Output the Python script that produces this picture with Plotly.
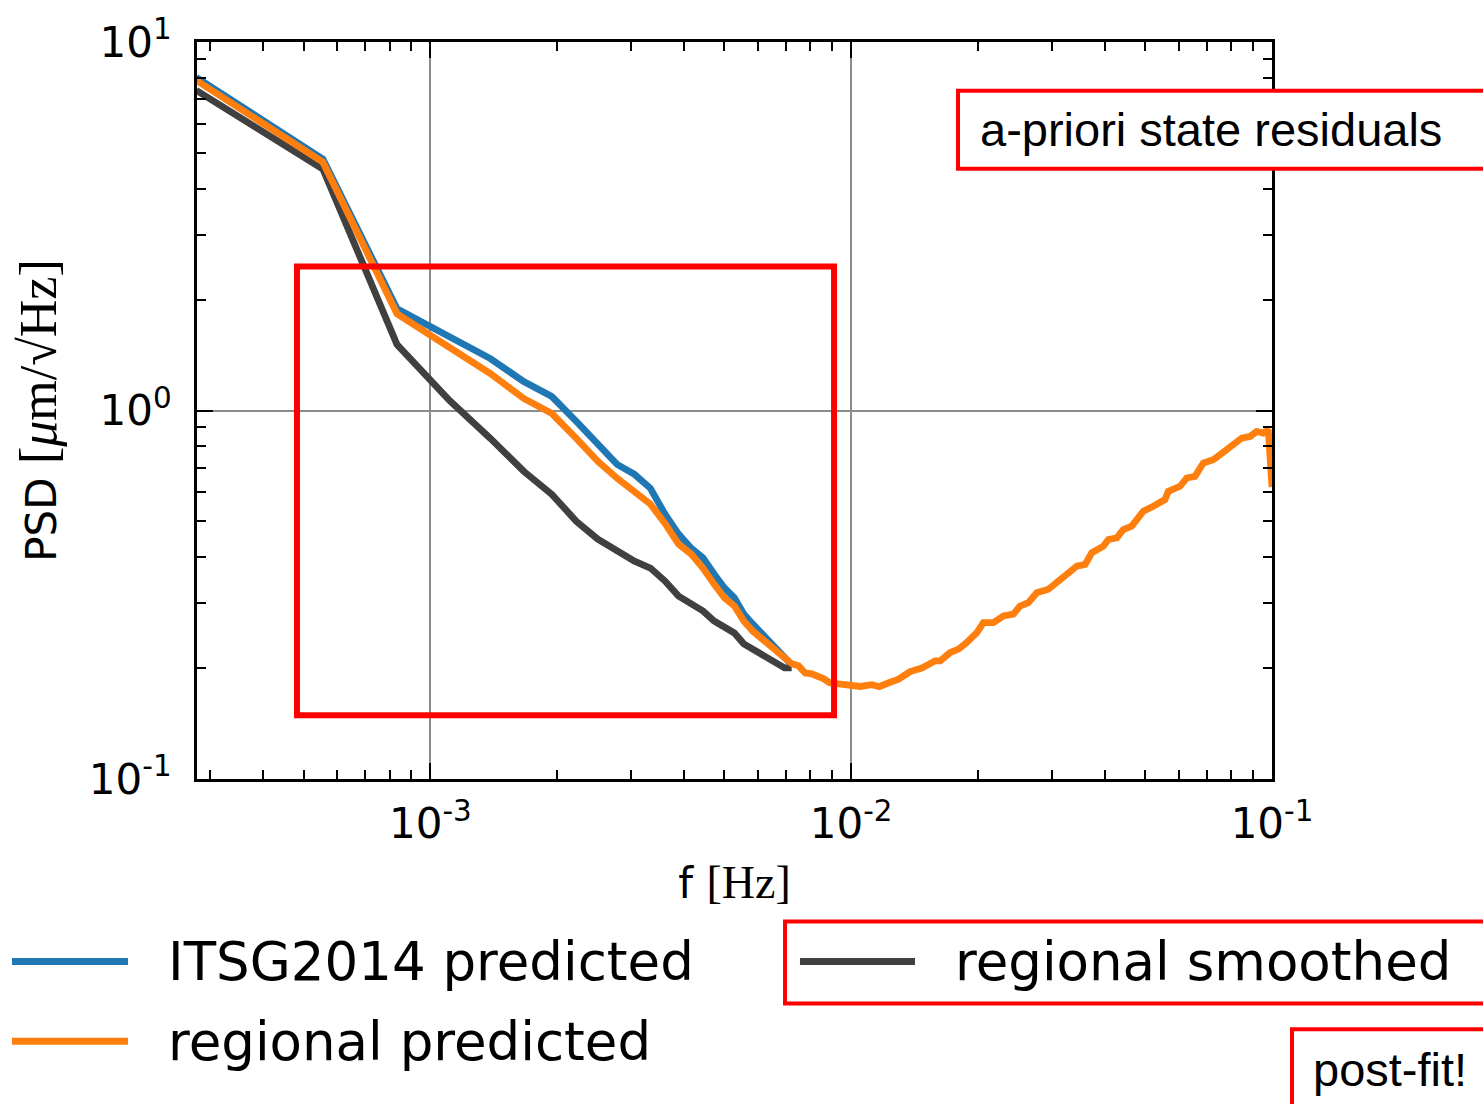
import plotly.graph_objects as go

# ---------------- data ----------------
df = 1.0 / 3600.0  # frequency resolution [Hz]

k_low = list(range(1, 27))
f_low = [k * df for k in k_low]

itsg_pred = [8.02, 4.81, 1.888, 1.576, 1.383, 1.198, 1.091, 0.934, 0.809, 0.714,
             0.671, 0.615, 0.523, 0.462, 0.423, 0.398, 0.360, 0.330, 0.310, 0.2805,
             0.2635, 0.249, 0.237, 0.2228, 0.212, 0.204]

reg_smooth = [7.39, 4.52, 1.509, 1.064, 0.840, 0.684, 0.592, 0.5006, 0.4476, 0.4153,
              0.390, 0.3736, 0.3445, 0.3137, 0.2985, 0.2858, 0.2685, 0.257, 0.249, 0.2327,
              0.2255, 0.2186, 0.2132, 0.2054, 0.2003, 0.2003]

# regional predicted: low-frequency bins (k = 1..33) ...
k_reg_low = list(range(1, 34))
reg_pred_low = [7.87, 4.72, 1.83, 1.472, 1.259, 1.078, 0.981, 0.840, 0.728, 0.655,
                0.604, 0.557, 0.494, 0.434, 0.408, 0.3736, 0.338, 0.310, 0.2948, 0.2685,
                0.2522, 0.2415, 0.2312, 0.220, 0.212, 0.2054, 0.2028, 0.194, 0.193, 0.1906,
                0.187, 0.1824, 0.1813]
# ... and the high-frequency part [Hz]
f_reg_high = [0.009417, 0.009945, 0.01050, 0.01120, 0.01167, 0.01216, 0.01296, 0.01381,
              0.01472, 0.01584, 0.01628, 0.01719, 0.01799, 0.01883, 0.01989, 0.02062,
              0.02178, 0.02301, 0.02429, 0.02520, 0.02637, 0.02761, 0.02941, 0.03108,
              0.03224, 0.03437, 0.03597, 0.03731, 0.03975, 0.04085, 0.04277, 0.04434,
              0.04642, 0.04946, 0.05224, 0.05568, 0.05670, 0.05882, 0.06045, 0.06271,
              0.06562, 0.06867, 0.07253, 0.07524, 0.08024, 0.08472, 0.08866, 0.09196,
              0.09535, 0.09799, 0.1]
reg_pred_high = [0.1816, 0.1791, 0.1783, 0.1803, 0.1780, 0.1816, 0.1867, 0.1957,
                 0.2000, 0.2093, 0.2093, 0.2204, 0.2251, 0.2346, 0.2495, 0.2657,
                 0.2657, 0.2770, 0.2800, 0.2948, 0.3009, 0.3203, 0.3272, 0.3445,
                 0.3554, 0.3781, 0.3822, 0.4110, 0.4286, 0.4467, 0.4512, 0.4755,
                 0.4854, 0.5329, 0.5497, 0.5732, 0.6036, 0.6161, 0.6227, 0.6557,
                 0.6627, 0.7200, 0.7355, 0.7587, 0.7992, 0.8414, 0.8503, 0.8774,
                 0.8682, 0.8867, 0.62]

f_reg = [k * df for k in k_reg_low] + f_reg_high
reg_pred = reg_pred_low + reg_pred_high

series_names = ["ITSG2014 predicted", "regional predicted", "regional smoothed"]
series_colors = ["#1f77b4", "#ff7f0e", "#404040"]

x_tick_vals = [1e-3, 1e-2, 1e-1]
x_tick_text = ["10<sup>-3</sup>", "10<sup>-2</sup>", "10<sup>-1</sup>"]
y_tick_vals = [1e-1, 1e0, 1e1]
y_tick_text = ["10<sup>-1</sup>", "10<sup>0</sup>", "10<sup>1</sup>"]

x_minor = [m * 10.0 ** e for e in (-4, -3, -2) for m in range(2, 10)]
y_minor = [m * 10.0 ** e for e in (-1, 0) for m in range(2, 10)]

# ---------------- figure ----------------
LW = 6.8
fig = go.Figure()
fig.add_trace(go.Scatter(x=f_low, y=itsg_pred, mode="lines", name=series_names[0],
                         line=dict(color=series_colors[0], width=LW), showlegend=False))
fig.add_trace(go.Scatter(x=f_low, y=reg_smooth, mode="lines", name=series_names[2],
                         line=dict(color=series_colors[2], width=LW), showlegend=False))
fig.add_trace(go.Scatter(x=f_reg, y=reg_pred, mode="lines", name=series_names[1],
                         line=dict(color=series_colors[1], width=LW), showlegend=False))

tickfont = dict(family="DejaVu Sans", size=42, color="black")

fig.update_xaxes(
    type="log", range=[-3.5545, -1],
    tickmode="array", tickvals=x_tick_vals, ticktext=x_tick_text,
    ticks="inside", ticklen=16, tickwidth=2, tickcolor="black",
    minor=dict(ticks="inside", ticklen=9, tickwidth=1.5, tickcolor="black",
               tickmode="array", tickvals=x_minor, showgrid=False),
    showline=True, linewidth=3, linecolor="black", mirror="allticks",
    showgrid=True, gridcolor="#8c8c8c", gridwidth=1.5,
    tickfont=tickfont, ticklabelstandoff=6,
    zeroline=False,
    title=dict(text="f <span style='font-family:Liberation Serif;font-size:46px'>[Hz]</span>",
               font=dict(family="DejaVu Sans", size=42, color="black"), standoff=22),
)
fig.update_yaxes(
    type="log", range=[-1, 1],
    tickmode="array", tickvals=y_tick_vals, ticktext=y_tick_text,
    ticks="inside", ticklen=16, tickwidth=2, tickcolor="black",
    minor=dict(ticks="inside", ticklen=9, tickwidth=1.5, tickcolor="black",
               tickmode="array", tickvals=y_minor, showgrid=False),
    showline=True, linewidth=3, linecolor="black", mirror="allticks",
    showgrid=True, gridcolor="#8c8c8c", gridwidth=1.5,
    tickfont=tickfont, ticklabelstandoff=14,
    zeroline=False,
    title=dict(text="PSD <span style='font-family:Liberation Serif;font-size:52px'>[<i>μ</i>m/√Hz]</span>",
               font=dict(family="DejaVu Sans", size=42, color="black"), standoff=20),
)

shapes = []
annotations = []

# big red rectangle inside the plot
shapes.append(dict(type="rect", xref="paper", yref="paper", x0=0.093, x1=0.5926,
                   y0=0.0866, y1=0.6955, line=dict(color="#ff0000", width=6),
                   fillcolor="rgba(0,0,0,0)", layer="above"))

# a-priori box
shapes.append(dict(type="rect", xref="paper", yref="paper", x0=0.7079, x1=1.21,
                   y0=0.8281, y1=0.9337, line=dict(color="#ff0000", width=4),
                   fillcolor="white", layer="above"))
annotations.append(dict(xref="paper", yref="paper", x=0.7265, y=0.8809,
                        xanchor="left", yanchor="middle", showarrow=False,
                        text="a-priori state residuals",
                        font=dict(family="Liberation Sans", size=47, color="black")))

# legend (manual, matplotlib style, 2 columns)
shapes.append(dict(type="rect", xref="paper", yref="paper", x0=0.547, x1=1.21,
                   y0=-0.3045, y1=-0.1935, line=dict(color="#ff0000", width=4),
                   fillcolor="white", layer="above"))
legend_rows = [
    (series_names[0], series_colors[0], -0.1721, -0.0642, -0.029, -0.2476),
    (series_names[1], series_colors[1], -0.1721, -0.0642, -0.029, -0.3559),
    (series_names[2], series_colors[2], 0.5609, 0.6679, 0.7035, -0.2476),
]
for name, col, lx0, lx1, tx, ly in legend_rows:
    shapes.append(dict(type="line", xref="paper", yref="paper", x0=lx0, x1=lx1,
                       y0=ly, y1=ly, line=dict(color=col, width=7), layer="above"))
    annotations.append(dict(xref="paper", yref="paper", x=tx, y=ly,
                            xanchor="left", yanchor="middle", showarrow=False,
                            text=name,
                            font=dict(family="DejaVu Sans", size=53, color="black")))

# post-fit box
shapes.append(dict(type="rect", xref="paper", yref="paper", x0=1.0186, x1=1.21,
                   y0=-0.46, y1=-0.3397, line=dict(color="#ff0000", width=4),
                   fillcolor="white", layer="above"))
annotations.append(dict(xref="paper", yref="paper", x=1.0363, y=-0.3938,
                        xanchor="left", yanchor="middle", showarrow=False,
                        text="post-fit!",
                        font=dict(family="Liberation Sans", size=47, color="black")))

fig.update_layout(
    width=1483, height=1104,
    margin=dict(l=197, r=211, t=40, b=325, pad=0),
    paper_bgcolor="white", plot_bgcolor="white",
    showlegend=False,
    shapes=shapes, annotations=annotations,
    font=dict(family="DejaVu Sans", color="black"),
)

fig.write_html("out.html",
               config={"displayModeBar": False},
               post_script="document.body.style.margin='0';document.body.style.padding='0';")
